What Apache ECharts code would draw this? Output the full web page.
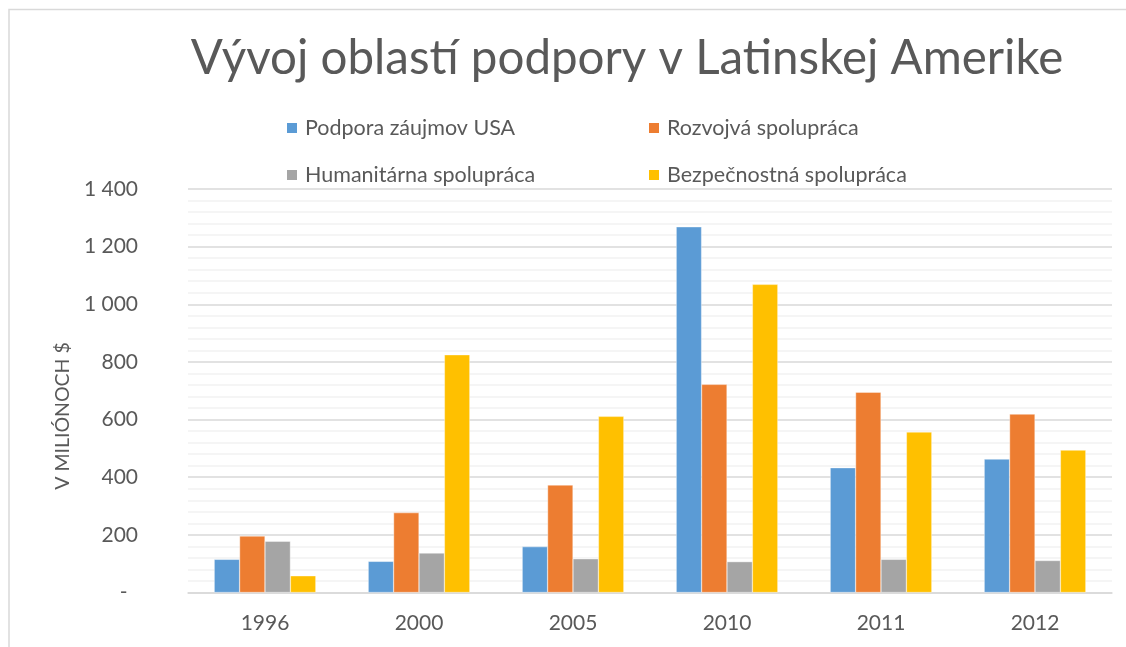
<!DOCTYPE html>
<html>
<head>
<meta charset="utf-8">
<script src="https://cdn.jsdelivr.net/npm/echarts@6/dist/echarts.min.js"></script>
<style>
  html, body { margin: 0; padding: 0; background: #fff; }
  #chart { width: 1126px; height: 647px; }
</style>
</head>
<body>
<div id="chart"></div>
<script>
// dáta odčítané z grafu (v miliónoch $)
const years = ['1996', '2000', '2005', '2010', '2011', '2012']
const seriesNames = ['Podpora záujmov USA', 'Rozvojvá spolupráca', 'Humanitárna spolupráca', 'Bezpečnostná spolupráca']
const zaujmyUSA = [115, 108, 159, 1269, 433, 463]
const rozvojova = [196, 277, 373, 722, 695, 619]
const humanitarna = [178, 137, 117, 107, 115, 111]
const bezpecnostna = [58, 825, 611, 1069, 557, 494]
const colors = ['#5B9BD5', '#ED7D31', '#A5A5A5', '#FFC000']

const font = 'Lato, "Open Sans", sans-serif'
const textColor = '#595959'

const chart = echarts.init(document.getElementById('chart'), null, { renderer: 'canvas' })

// legenda je v dvoch stĺpcoch, každá položka zvlášť
const legendPos = [
  { left: 280, top: 112 },
  { left: 642, top: 112 },
  { left: 280, top: 159 },
  { left: 642, top: 159 }
]

const option = {
  backgroundColor: '#fff',
  animation: false,
  title: {
    text: 'Vývoj oblastí podpory v Latinskej Amerike',
    left: 622,
    textAlign: 'center',
    top: 30,
    textStyle: { fontFamily: font, fontSize: 47.5, fontWeight: 'normal', color: textColor }
  },
  legend: legendPos.map((p, i) => ({
    data: [seriesNames[i]],
    left: p.left,
    top: p.top,
    icon: 'rect',
    itemWidth: 12,
    itemHeight: 12,
    textStyle: { fontFamily: font, fontSize: 21.5, color: textColor, padding: [0, 0, 0, 2] }
  })),
  grid: { left: 188, right: 14, top: 189, bottom: 54.5, containLabel: false },
  xAxis: {
    type: 'category',
    data: years,
    axisLine: { lineStyle: { color: '#d9d9d9', width: 1.5 } },
    axisTick: { show: false },
    axisLabel: { fontFamily: font, fontSize: 21, color: textColor, margin: 20 }
  },
  yAxis: {
    type: 'value',
    min: 0,
    max: 1400,
    interval: 200,
    axisLine: { show: false },
    axisTick: { show: false },
    axisLabel: {
      fontFamily: font,
      fontSize: 21,
      color: textColor,
      margin: 50,
      formatter: (v) => v === 0 ? '-\u2002' : String(v).replace(/\B(?=(\d{3})+(?!\d))/g, ' ')
    },
    splitLine: { lineStyle: { color: '#d9d9d9', width: 1.5 } },
    minorTick: { show: false, splitNumber: 5 },
    minorSplitLine: { show: true, lineStyle: { color: '#f2f2f2', width: 1.5 } }
  },
  graphic: [
    {
      // rám grafu
      type: 'rect',
      shape: { x: 9, y: 9.5, width: 1300, height: 800 },
      style: { fill: 'none', stroke: '#d9d9d9', lineWidth: 1.5 },
      silent: true
    },
    {
      type: 'text',
      x: 63,
      y: 416,
      rotation: Math.PI / 2,
      style: {
        text: 'V MILIÓNOCH $',
        fontFamily: font,
        fontSize: 19.5,
        fill: textColor,
        align: 'center',
        verticalAlign: 'middle'
      }
    }
  ],
  series: [zaujmyUSA, rozvojova, humanitarna, bezpecnostna].map((data, i) => ({
    name: seriesNames[i],
    type: 'bar',
    data,
    barGap: '0%',
    barCategoryGap: '34%',
    itemStyle: { color: colors[i], borderColor: '#fff', borderWidth: 0.4 }
  }))
}

chart.setOption(option)
</script>
</body>
</html>
